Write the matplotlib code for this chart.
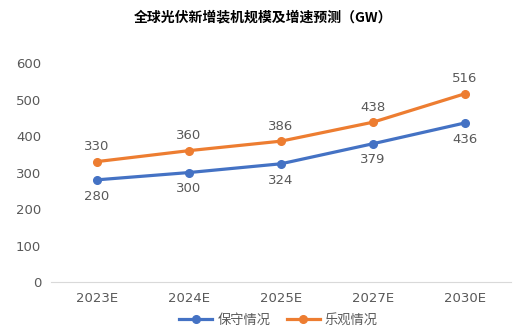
import matplotlib.pyplot as plt

plt.rcParams['font.family'] = ['Noto Sans CJK SC', 'DejaVu Sans']

anos = ['2023E', '2024E', '2025E', '2027E', '2030E']
conservador = [280, 300, 324, 379, 436]
otimista = [330, 360, 386, 438, 516]

fig = plt.figure(figsize=(5.16, 3.32), dpi=100)
ax = fig.add_axes([0.0988, 0.1506, 0.8915, 0.6594])

x = range(len(anos))
ax.plot(x, conservador, color='#4472C4', lw=2.3, marker='o', ms=5.5, label='保守情况')
ax.plot(x, otimista, color='#ED7D31', lw=2.3, marker='o', ms=5.5, label='乐观情况')

cinza = '#595959'
for i, v in enumerate(conservador):
    ax.annotate(str(v), (i, v), xytext=(0, -7), textcoords='offset points',
                ha='center', va='top', fontsize=9.5, color=cinza, family='DejaVu Sans')
for i, v in enumerate(otimista):
    ax.annotate(str(v), (i, v), xytext=(0, 6), textcoords='offset points',
                ha='center', va='bottom', fontsize=9.5, color=cinza, family='DejaVu Sans')

ax.set_xlim(-0.5, len(anos) - 0.5)
ax.set_ylim(0, 600)
ax.set_yticks(range(0, 601, 100))
ax.set_xticks(list(x))
ax.set_xticklabels(anos)
ax.tick_params(length=0, labelsize=9.5, colors=cinza, pad=7)
for t in ax.get_xticklabels() + ax.get_yticklabels():
    t.set_family('DejaVu Sans')
for s in ['top', 'right', 'left']:
    ax.spines[s].set_visible(False)
ax.spines['bottom'].set_color('#D9D9D9')

fig.text(0.51, 0.948, '全球光伏新增装机规模及增速预测（GW）', ha='center', va='center',
         fontsize=10, fontweight='bold', color='black')

fig.legend(loc='center', bbox_to_anchor=(0.54, 0.035), ncol=2, frameon=False,
           fontsize=9.5, labelcolor=cinza, handlelength=2.5, columnspacing=1.2,
           handletextpad=0.4)

fig.savefig('out.png', dpi=100)
